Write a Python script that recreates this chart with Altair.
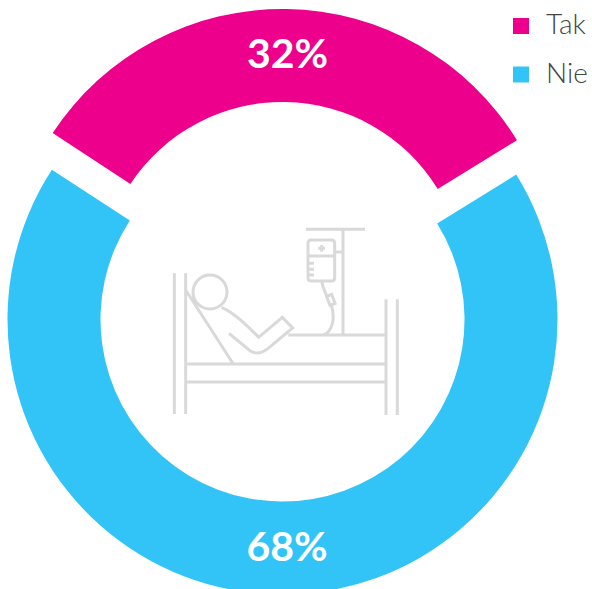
import altair as alt
import pandas as pd
import math

categories = ["Tak", "Nie"]
shares = [32, 68]
colors = ["#EC008C", "#33C4F7"]

# Hospital bed outline, drawn as a single stroked symbol path (units are thirds of a pixel)
ICON_PATH = (
    "M43 160V582M77 160V582M678 238V585M712 238V585"
    "M77 432H678M77 486H678M385 345H678"
    "M549 30V345M438 28H615M525 96H549"
    "M454 60H514Q524 60 524 70V173Q524 183 514 183H454Q444 183 444 173V70Q444 60 454 60Z"
    "M444 108H524M444 130H462M444 148H462M444 165H462"
    "M475 85H495M485 75V95"
    "M485 183C488 205 495 215 502 232"
    "M500 230L515 223L525 250L510 256Z"
    "M514 255C526 295 518 335 490 345"
    "M99 216A51 51 0 1 0 201 216A51 51 0 1 0 99 216Z"
    "M77 210L220 432"
    "M185 262C225 280 262 318 296 352L367 292L398 324L340 372C315 395 295 408 270 392L207 340"
)

df = pd.DataFrame({"cat": categories, "value": shares})
df["label"] = df["value"].astype(str) + "%"

color = alt.Color(
    "cat:N",
    scale=alt.Scale(domain=categories, range=colors),
    legend=alt.Legend(
        title=None,
        orient="none",
        legendX=507,
        legendY=12,
        symbolType="square",
        symbolSize=256,
        symbolStrokeWidth=0,
        labelFont="Lato",
        labelFontWeight=300,
        labelFontSize=28,
        labelColor="#444444",
        labelOffset=11,
        rowPadding=20.5,
        labelLimit=100,
    ),
)


def segment(name, cx, cy, start_deg):
    start = math.radians(start_deg)
    return (
        alt.Chart(df)
        .transform_filter(alt.datum.cat == name)
        .mark_arc(radius=275, radius2=182, strokeWidth=0)
        .encode(
            x=alt.value(cx),
            y=alt.value(cy),
            theta=alt.Theta(
                "value:Q",
                stack=True,
                scale=alt.Scale(domain=[0, 100], range=[start, start + 2 * math.pi]),
            ),
            color=color,
        )
    )


def label(name, cx, baseline_y):
    return (
        alt.Chart(df)
        .transform_filter(alt.datum.cat == name)
        .mark_text(
            font="Lato",
            fontWeight=700,
            fontSize=41,
            color="white",
            align="center",
            baseline="alphabetic",
        )
        .encode(x=alt.value(cx), y=alt.value(baseline_y), text="label:N")
    )


icon = (
    alt.Chart(pd.DataFrame({"k": [0]}))
    .mark_point(
        shape=ICON_PATH,
        size=4 / 9,
        filled=False,
        stroke="#D9D9D9",
        strokeWidth=3,
        opacity=1,
    )
    .encode(x=alt.value(160), y=alt.value(220))
)

chart = (
    alt.layer(
        segment("Tak", 282.5, 284, -56.7),
        segment("Nie", 282.5, 319.5, 58.2),
        icon,
        label("Tak", 287.5, 68),
        label("Nie", 287, 561),
    )
    .resolve_scale(theta="independent")
    .properties(
        width=592,
        height=589,
        padding=0,
        autosize=alt.AutoSizeParams(type="none"),
        background="white",
    )
    .configure_view(stroke=None)
)

chart.save("out.html", embed_options={"renderer": "svg", "actions": False})
